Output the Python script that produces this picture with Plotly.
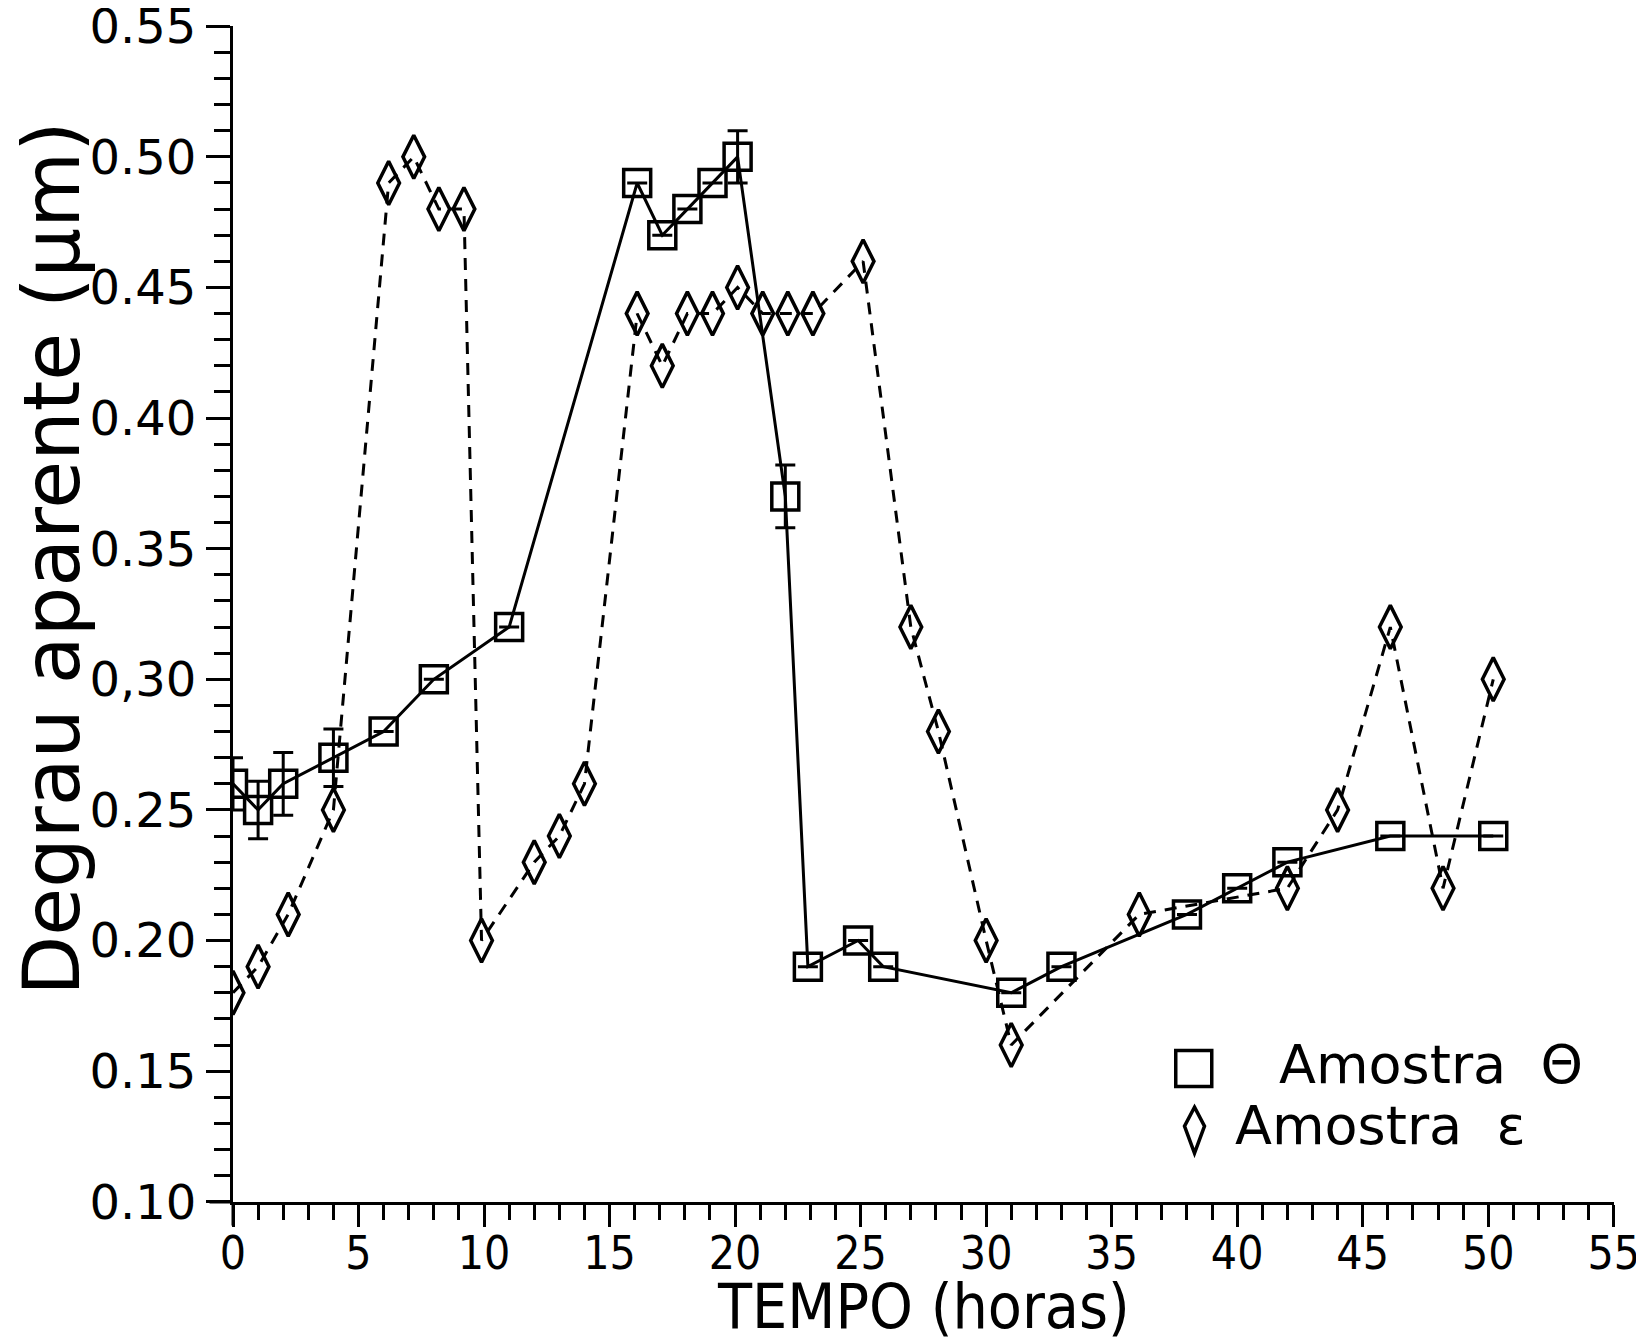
import plotly.graph_objects as go

# ---- data ----
theta_t = [0, 1, 2, 4, 6, 8, 11, 16.1, 17.1, 18.1, 19.1, 20.1, 22.0, 22.9, 24.9, 25.9, 31.0, 33.0, 38.0, 40.0, 42.0, 46.1, 50.2]
theta_y = [0.26, 0.25, 0.26, 0.27, 0.28, 0.30, 0.32, 0.49, 0.47, 0.48, 0.49, 0.50, 0.37, 0.19, 0.20, 0.19, 0.18, 0.19, 0.21, 0.22, 0.23, 0.24, 0.24]
theta_err = [0.010, 0.011, 0.012, 0.011, 0, 0, 0, 0, 0, 0, 0, 0.010, 0.012, 0, 0, 0, 0, 0, 0, 0, 0, 0, 0]

eps_t = [0, 1, 2.2, 4, 6.2, 7.2, 8.2, 9.2, 9.9, 12, 13, 14, 16.1, 17.1, 18.1, 19.1, 20.1, 21.1, 22.1, 23.1, 25.1, 27, 28.1, 30, 31, 36.1, 42, 44, 46.1, 48.2, 50.2]
eps_y = [0.18, 0.19, 0.21, 0.25, 0.49, 0.50, 0.48, 0.48, 0.20, 0.23, 0.24, 0.26, 0.44, 0.42, 0.44, 0.44, 0.45, 0.44, 0.44, 0.44, 0.46, 0.32, 0.28, 0.20, 0.16, 0.21, 0.22, 0.25, 0.32, 0.22, 0.30]

x_ticks = [0, 5, 10, 15, 20, 25, 30, 35, 40, 45, 50, 55]
y_ticks = [0.10, 0.15, 0.20, 0.25, 0.30, 0.35, 0.40, 0.45, 0.50, 0.55]
y_ticktext = ["0.10", "0.15", "0.20", "0.25", "0,30", "0.35", "0.40", "0.45", "0.50", "0.55"]

legend_names = ["Amostra Θ", "Amostra ε"]

FONT = "DejaVu Sans, sans-serif"
NARROW = "DejaVu Sans Condensed, Liberation Sans Narrow, Roboto, DejaVu Sans, sans-serif"

fig = go.Figure()

fig.add_trace(go.Scatter(
    x=eps_t, y=eps_y, mode="lines+markers", name=legend_names[1],
    line=dict(color="black", width=3, dash="12px,9px"),
    marker=dict(symbol="diamond-tall-open", size=31, color="black", line=dict(width=3.5, color="black")),
    showlegend=False,
))
fig.add_trace(go.Scatter(
    x=theta_t, y=theta_y, mode="lines+markers", name=legend_names[0],
    line=dict(color="black", width=3),
    marker=dict(symbol="square-open", size=27, color="black", line=dict(width=3.5, color="black")),
    error_y=dict(type="data", array=theta_err, visible=True, color="black", thickness=3, width=10),
    showlegend=False,
))

# the page body adds an 8px offset, margins compensate for it
fig.update_layout(
    width=1644, height=1338,
    margin=dict(l=225, r=38, t=17.5, b=144.3),
    paper_bgcolor="white", plot_bgcolor="white",
    font=dict(family=FONT, color="black"),
    xaxis=dict(
        range=[0, 55.01], tickvals=x_ticks, ticktext=[str(v) for v in x_ticks],
        showgrid=False, zeroline=False, showline=True, linecolor="black", linewidth=3,
        ticks="outside", ticklen=22, tickwidth=3, tickcolor="black",
        tickfont=dict(family=NARROW, size=46, color="black"),
        minor=dict(dtick=1, ticks="outside", ticklen=15, tickwidth=2.5, tickcolor="black", showgrid=False),
        ticklabeloverflow="allow", ticklabelstandoff=-13, automargin=False,
    ),
    yaxis=dict(
        range=[0.0999, 0.5501], tickvals=y_ticks, ticktext=y_ticktext,
        showgrid=False, zeroline=False, showline=True, linecolor="black", linewidth=3,
        ticks="outside", ticklen=24, tickwidth=3, tickcolor="black",
        tickfont=dict(family=FONT, size=48, color="black"),
        minor=dict(dtick=0.01, ticks="outside", ticklen=16, tickwidth=2.5, tickcolor="black", showgrid=False),
        ticklabeloverflow="allow", automargin=False,
    ),
    showlegend=False,
)

annotations = [
    dict(text="Degrau aparente (μm)", xref="paper", yref="paper", x=-0.131, y=0.547,
         textangle=-90, showarrow=False, xanchor="center", yanchor="middle",
         font=dict(family=FONT, size=78, color="black")),
    dict(text="TEMPO (horas)", xref="paper", yref="paper", x=0.5, y=-0.1215,
         showarrow=False, xanchor="center", yanchor="bottom",
         font=dict(family=NARROW, size=62, color="black")),
    dict(text="Amostra  Θ", xref="x", yref="y", x=41.6, y=0.1525,
         showarrow=False, xanchor="left", yanchor="middle",
         font=dict(family=FONT, size=54, color="black")),
    dict(text="Amostra  ε", xref="x", yref="y", x=39.85, y=0.129,
         showarrow=False, xanchor="left", yanchor="middle",
         font=dict(family=FONT, size=54, color="black")),
]
fig.update_layout(annotations=annotations)

shapes = [
    # legend square
    dict(type="rect", xref="x", yref="y", xsizemode="pixel", ysizemode="pixel",
         xanchor=38.27, yanchor=0.151, x0=-18, x1=18, y0=-18, y1=18,
         line=dict(color="black", width=3.5), fillcolor="rgba(0,0,0,0)"),
    # legend diamond
    dict(type="path", xref="x", yref="y", xsizemode="pixel", ysizemode="pixel",
         xanchor=38.3, yanchor=0.1274, path="M 0 23 L 10 4 L 0 -23 L -10 4 Z",
         line=dict(color="black", width=3.5), fillcolor="rgba(0,0,0,0)"),
    # axis line extensions
    dict(type="line", xref="paper", yref="paper", x0=-0.017, x1=0, y0=0, y1=0,
         line=dict(color="black", width=3)),
    dict(type="line", xref="paper", yref="paper", x0=0, x1=0, y0=0, y1=-0.02,
         line=dict(color="black", width=3)),
]
fig.update_layout(shapes=shapes)

fig.write_html("out.html")
